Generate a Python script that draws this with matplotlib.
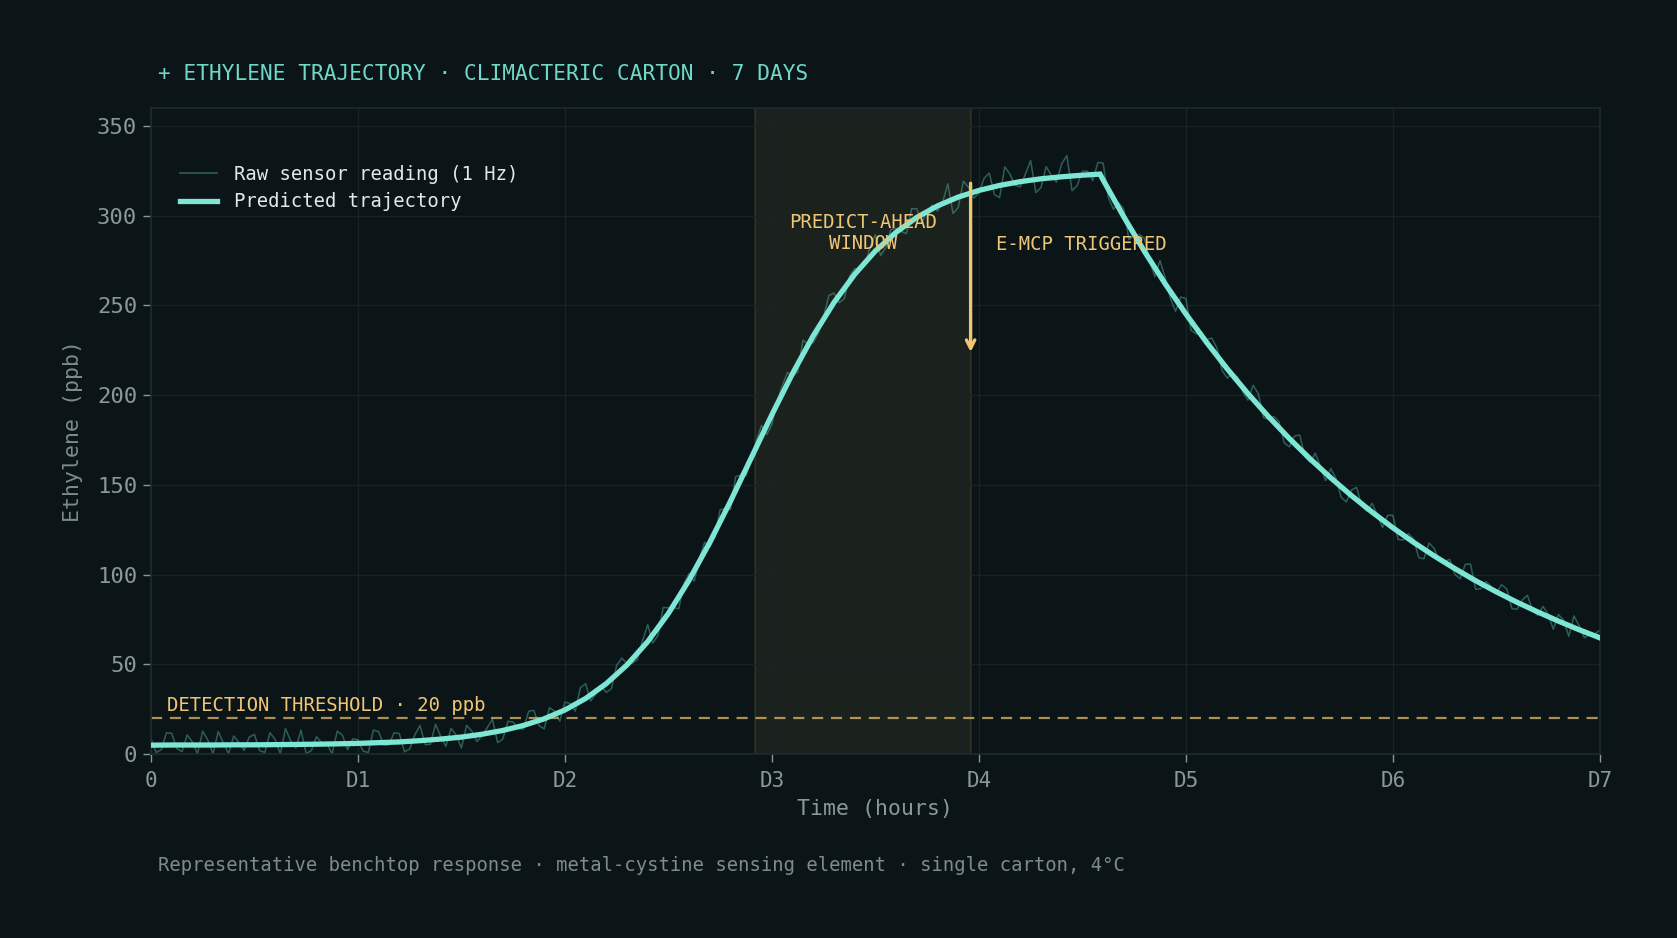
import numpy as np
import matplotlib
matplotlib.use("Agg")
import matplotlib.pyplot as plt

# ---------------- data ----------------
# predicted trajectory (time in days, ethylene in ppb)
pred_t = [0.0, 0.1, 0.2, 0.3, 0.4, 0.5, 0.6, 0.7, 0.8, 0.9,
          1.0, 1.1, 1.2, 1.3, 1.4, 1.5, 1.6, 1.7, 1.8, 1.9,
          2.0, 2.1, 2.2, 2.3, 2.4, 2.5, 2.6, 2.7, 2.8, 2.9,
          3.0, 3.1, 3.2, 3.3, 3.4, 3.5, 3.6, 3.7, 3.8, 3.9,
          4.0, 4.1, 4.2, 4.3, 4.4, 4.5, 4.585, 4.6, 4.7, 4.8, 4.9,
          5.0, 5.1, 5.2, 5.3, 5.4, 5.5, 5.6, 5.7, 5.8, 5.9,
          6.0, 6.1, 6.2, 6.3, 6.4, 6.5, 6.6, 6.7, 6.8, 6.9, 7.0]
pred_v = [5.0, 5.1, 5.1, 5.1, 5.2, 5.2, 5.3, 5.4, 5.55, 5.75,
          6.0, 6.4, 6.8, 7.5, 8.4, 9.5, 11.1, 13.2, 16.0, 19.7,
          24.6, 31.0, 39.3, 49.7, 62.7, 78.4, 96.9, 118.0, 140.9, 165.0,
          189.1, 212.1, 233.1, 251.6, 267.3, 280.3, 290.7, 299.0, 305.4, 310.3,
          314.0, 316.8, 318.9, 320.5, 321.6, 322.5, 323.1, 319.9, 299.3, 280.0, 262.0,
          245.2, 229.4, 214.6, 200.8, 187.9, 175.8, 164.5, 153.9, 144.0, 134.8,
          126.1, 118.0, 110.4, 103.3, 96.6, 90.4, 84.6, 79.2, 74.1, 69.3, 64.8]

# raw sensor readings on the 0.05-day clock ...
raw_v = [8.6, 2.5, 11.6, 1.4, 6.8, 12.8, 0.2, 6.3, 10.1, 2.1,
         11.0, 0.9, 8.2, 14.3, 3.5, 0.3, 9.7, 6.2, 12.8, 2.5,
         8.0, 0.9, 12.5, 5.2, 11.4, 2.9, 16.0, 5.5, 9.9, 14.3,
         3.4, 12.9, 10.4, 19.4, 8.4, 17.9, 14.0, 24.4, 14.1, 23.9,
         29.0, 24.0, 39.2, 33.8, 34.4, 49.4, 50.4, 52.8, 72.1, 66.2,
         81.5, 81.0, 100.6, 108.7, 115.3, 136.2, 136.3, 155.4, 164.2, 183.1,
         183.7, 205.1, 210.4, 230.6, 229.2, 243.7, 256.9, 253.7, 270.5, 272.5,
         289.3, 282.2, 292.9, 289.9, 303.8, 302.6, 302.5, 317.7, 304.5, 315.8,
         312.6, 323.7, 310.0, 323.1, 316.0, 330.6, 315.6, 322.3, 328.9, 313.9,
         324.7, 319.5, 329.3, 303.5, 303.6, 289.0, 287.3, 266.0, 265.4, 246.7,
         253.9, 234.1, 230.9, 226.3, 209.5, 210.0, 197.2, 200.8, 186.5, 185.2,
         171.2, 177.8, 162.5, 160.1, 159.0, 143.1, 147.1, 138.1, 139.7, 126.2,
         133.1, 119.3, 119.9, 108.8, 114.5, 107.3, 100.1, 105.7, 91.8, 96.1,
         89.7, 92.1, 80.7, 88.5, 77.3, 78.0, 77.8, 65.6, 71.5, 66.7, 69.1]
# ... and the readings taken half-way between them
raw_mid = [0.9, 11.9, 3.2, 10.7, 0.3, 7.8, 12.6, 0.2, 6.4, 9.5,
           2.0, 11.9, 0.2, 7.4, 13.4, 2.0, 6.3, 0.1, 10.6, 8.5,
           1.7, 13.4, 5.0, 12.0, 1.3, 10.7, 5.3, 16.7, 4.4, 10.6,
           16.0, 7.0, 14.8, 6.4, 18.3, 14.2, 23.9, 15.9, 25.9, 18.4,
           28.3, 37.1, 29.6, 38.0, 36.5, 53.5, 50.6, 63.1, 61.9, 81.7,
           81.6, 95.1, 96.3, 118.1, 121.0, 136.7, 154.6, 155.1, 174.6, 178.0,
           196.6, 212.7, 213.0, 228.5, 234.7, 255.4, 251.5, 266.2, 269.8, 282.8,
           277.7, 292.2, 291.2, 303.8, 295.9, 305.9, 307.7, 301.2, 319.1, 309.7,
           320.7, 311.7, 327.1, 316.9, 323.2, 312.8, 327.3, 318.6, 333.4, 316.7,
           324.7, 329.6, 310.2, 307.2, 286.6, 289.5, 274.6, 274.9, 253.8, 254.6,
           236.1, 235.2, 231.8, 213.7, 212.3, 201.8, 205.5, 187.5, 188.1, 173.4,
           177.2, 165.8, 167.6, 152.4, 153.6, 140.5, 148.6, 135.2, 133.3, 133.0,
           119.6, 122.9, 109.5, 117.6, 107.6, 108.5, 97.7, 105.9, 92.2, 93.3,
           94.4, 81.1, 85.8, 80.0, 82.3, 69.6, 74.6, 77.0, 64.8, 66.8]
raw_all = [v for pair in zip(raw_v[:-1], raw_mid) for v in pair] + [raw_v[-1]]
raw_t = np.arange(len(raw_all)) * 0.025

tick_days = [0, 1, 2, 3, 4, 5, 6, 7]
tick_labels = ["0", "D1", "D2", "D3", "D4", "D5", "D6", "D7"]
y_ticks = [0, 50, 100, 150, 200, 250, 300, 350]

threshold = 20
window_start, window_end = 2.92, 3.96
trigger_day = 3.96
arrow_from, arrow_to = 318, 224

# ---------------- style ----------------
BG = "#0b1517"
TEAL = "#7ee6d4"
GOLD = "#f0c674"
GREY = "#8a9898"
MONO = ["DejaVu Sans Mono", "DejaVu Sans"]
plt.rcParams["font.family"] = MONO

fig = plt.figure(figsize=(16.77, 9.38), dpi=100, facecolor=BG)
ax = fig.add_axes([0.090, 0.196, 0.864, 0.689])
ax.set_facecolor(BG)

ax.axvspan(window_start, window_end, facecolor=GOLD, alpha=0.07, zorder=0)
for xe in (window_start, window_end):
    ax.axvline(xe, color=GOLD, alpha=0.12, lw=1.2, zorder=0.5)

ax.grid(True, color="#182325", lw=1.0, zorder=0.2)
ax.set_axisbelow(True)

ax.plot(raw_t, raw_all, color="#5cc4b2", alpha=0.42, lw=1.1, zorder=2,
        label="Raw sensor reading (1 Hz)")
ax.plot(pred_t, pred_v, color=TEAL, lw=3.8, zorder=3,
        solid_joinstyle="miter", label="Predicted trajectory")

ax.axhline(threshold, color=GOLD, alpha=0.7, lw=1.6, ls=(0, (5, 3.5)), zorder=1.5)
ax.text(0.08, threshold + 1.8, "DETECTION THRESHOLD · 20 ppb", color=GOLD,
        fontsize=13.6, va="bottom", ha="left")

ax.annotate("", xy=(trigger_day, arrow_to), xytext=(trigger_day, arrow_from),
            arrowprops=dict(arrowstyle="->", color=GOLD, lw=2.4,
                            mutation_scale=15, shrinkA=0, shrinkB=0), zorder=4)
ax.text((window_start + window_end) / 2, 290.5, "PREDICT-AHEAD\nWINDOW", color=GOLD,
        fontsize=13.6, ha="center", va="center", linespacing=1.15)
ax.text(4.085, 284, "E-MCP TRIGGERED", color=GOLD, fontsize=13.6,
        ha="left", va="center")

ax.set_xlim(0, 7)
ax.set_ylim(0, 360)
ax.set_xticks(tick_days)
ax.set_xticklabels(tick_labels)
ax.set_yticks(y_ticks)
ax.tick_params(axis="both", colors="#8a9898", labelcolor=GREY, length=6,
               width=1, direction="out")
ax.tick_params(axis="x", labelsize=15, pad=6)
ax.tick_params(axis="y", labelsize=16, pad=4)
for s in ax.spines.values():
    s.set_color("#1e2b2d")
    s.set_linewidth(1.2)

ax.set_xlabel("Time (hours)", color=GREY, fontsize=15.5, labelpad=6)
ax.set_ylabel("Ethylene (ppb)", color="#7d8b8b", fontsize=15.5, labelpad=10)

leg = ax.legend(loc="upper left", bbox_to_anchor=(0.008, 0.938), frameon=False,
                fontsize=13.6, handlelength=2.0, handletextpad=0.9,
                labelspacing=0.45, borderaxespad=0.5)
for t in leg.get_texts():
    t.set_color("#e2e8e8")
leg.get_lines()[0].set_alpha(0.45)

fig.text(0.094, 0.921, "+ ETHYLENE TRAJECTORY · CLIMACTERIC CARTON · 7 DAYS",
         color="#6fd8c6", fontsize=15.2, ha="left", va="center")
fig.text(0.094, 0.077,
         "Representative benchtop response · metal-cystine sensing element · single carton, 4°C",
         color="#7d8b8b", fontsize=13.55, ha="left", va="center")

fig.savefig("out.png", dpi=100, facecolor=BG)
